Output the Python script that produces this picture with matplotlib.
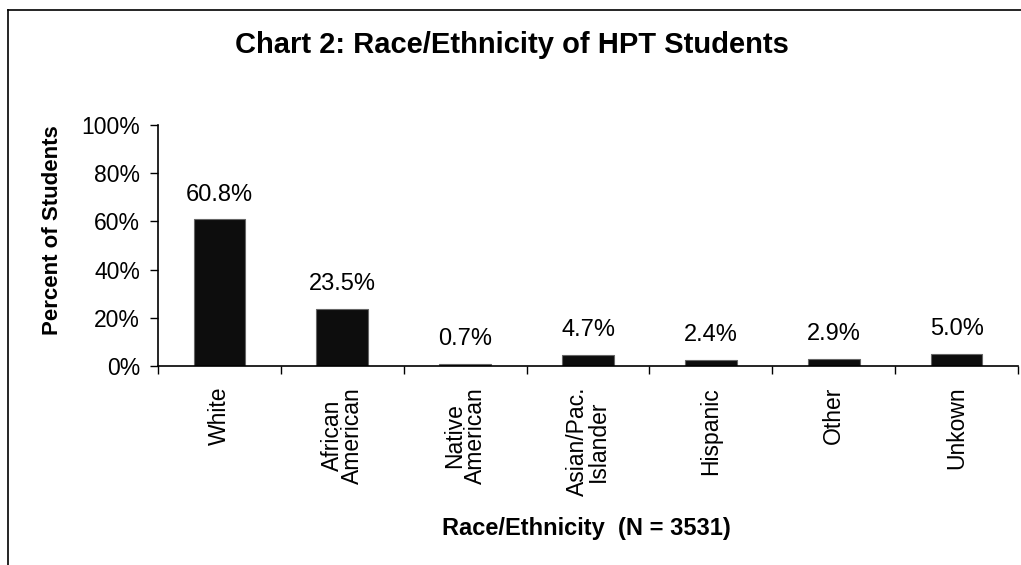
import matplotlib
matplotlib.use("Agg")
import matplotlib.pyplot as plt
from matplotlib.lines import Line2D

categories = ["White", "African\nAmerican", "Native\nAmerican", "Asian/Pac.\nIslander",
              "Hispanic", "Other", "Unkown"]
values = [60.8, 23.5, 0.7, 4.7, 2.4, 2.9, 5.0]
value_labels = ["60.8%", "23.5%", "0.7%", "4.7%", "2.4%", "2.9%", "5.0%"]
yticks = [0, 20, 40, 60, 80, 100]
ytick_labels = ["0%", "20%", "40%", "60%", "80%", "100%"]

plt.rcParams['font.family'] = ['Liberation Sans', 'DejaVu Sans']

W, H = 1021, 565
fig = plt.figure(figsize=(W / 100, H / 100), dpi=100)
ax = fig.add_axes([158 / W, 1 - 366 / H, (1018 - 158) / W, (366 - 125) / H])

x = list(range(len(categories)))
ax.bar(x, values, width=0.42, color='#0d0d0d', edgecolor='#666666', linewidth=0.8)
for xi, v, lab in zip(x, values, value_labels):
    ax.annotate(lab, (xi, v), xytext=(0, 10), textcoords='offset points',
                ha='center', va='bottom', fontsize=17)

ax.set_xlim(-0.5, len(categories) - 0.5)
ax.set_ylim(0, 100)
ax.set_yticks(yticks)
ax.set_yticklabels(ytick_labels, fontsize=16.5)
ax.set_xticks([i - 0.5 for i in range(len(categories) + 1)])
ax.set_xticklabels([])
ax.set_xticks(x, minor=True)
ax.set_xticklabels(categories, minor=True, rotation=90, fontsize=16.5,
                   ha='center', va='top', linespacing=0.85)
ax.tick_params(axis='x', which='minor', length=0, pad=15)
ax.tick_params(axis='x', which='major', length=6, direction='out', width=1)
ax.tick_params(axis='y', length=6, direction='out', width=1, pad=7)
for s in ['top', 'right']:
    ax.spines[s].set_visible(False)
ax.spines['left'].set_linewidth(1.2)
ax.spines['bottom'].set_linewidth(1.2)

fig.text(52 / W, 1 - 230 / H, "Percent of Students", rotation=90, ha='center',
         va='center', fontsize=16, fontweight='bold')
fig.text(586 / W, 1 - 529 / H, "Race/Ethnicity  (N = 3531)", ha='center', va='center',
         fontsize=17, fontweight='bold')
fig.text(512 / W, 1 - 45 / H, "Chart 2: Race/Ethnicity of HPT Students", ha='center',
         va='center', fontsize=21, fontweight='bold')

# frame lines
fig.add_artist(Line2D([8 / W, 1], [1 - 10 / H, 1 - 10 / H], color='black', lw=1.2,
                      transform=fig.transFigure))
fig.add_artist(Line2D([8 / W, 8 / W], [0, 1 - 10 / H], color='black', lw=1.2,
                      transform=fig.transFigure))

fig.savefig("out.png", dpi=100)
